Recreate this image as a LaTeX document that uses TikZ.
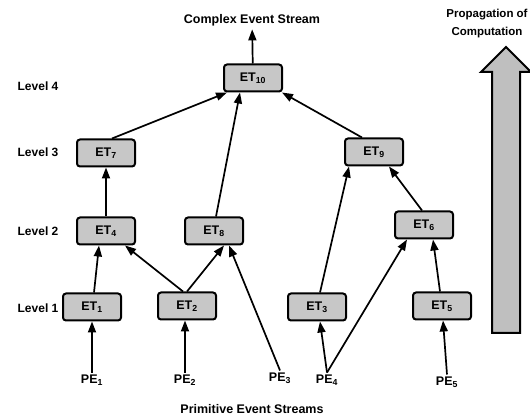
\documentclass[tikz,border=0pt]{standalone}
\usepackage{fontspec}
\setmainfont{Liberation Sans}
\usetikzlibrary{positioning,calc}
\usetikzlibrary{arrows.meta}
\tikzset{
  et/.style={rectangle, rounded corners=3pt, minimum width=58pt, minimum height=27pt, text centered, draw=black, line width=2pt, fill=black!22, font=\bfseries\fontsize{12.5}{14}\selectfont},
  lv/.style={font=\bfseries\fontsize{12.5}{18}\selectfont, text centered},
  pe/.style={font=\bfseries\fontsize{12.5}{14}\selectfont, inner sep=2pt},
  ar/.style={->, line width=1.7pt},
  node distance=7mm
}

\begin{document}
\begin{tikzpicture}[x=1pt, y=-1pt, >={Triangle[length=11pt,width=8pt]}]
	\useasboundingbox (0,0) rectangle (530,419);
	\node[lv] (ces) at (252,20) {Complex Event Stream};
	\node[lv] (pes) at (252,409) {Primitive Event Streams};
	\node[lv, align=center, font=\bfseries\fontsize{11.5}{18}\selectfont] (prop) at (487,24) {Propagation of\\Computation};
	%
	\node[lv, font=\bfseries\fontsize{12}{14}\selectfont] (lv4) at (38,86) {Level 4};
	\node[lv, font=\bfseries\fontsize{12}{14}\selectfont] (lv3) at (38,152) {Level 3};
	\node[lv, font=\bfseries\fontsize{12}{14}\selectfont] (lv2) at (38,231) {Level 2};
	\node[lv, font=\bfseries\fontsize{12}{14}\selectfont] (lv1) at (38,308) {Level 1};
	%
	\node[et] (et10) at (253,78) {ET\textsubscript{10}};
	\node[et] (et7) at (106,153) {ET\textsubscript{7}};
	\node[et] (et9) at (374,152) {ET\textsubscript{9}};
	\node[et] (et4) at (106,231) {ET\textsubscript{4}};
	\node[et] (et8) at (214,231) {ET\textsubscript{8}};
	\node[et] (et6) at (424,225) {ET\textsubscript{6}};
	\node[et] (et1) at (92,307) {ET\textsubscript{1}};
	\node[et] (et2) at (187,306) {ET\textsubscript{2}};
	\node[et] (et3) at (317,307) {ET\textsubscript{3}};
	\node[et] (et5) at (442,306) {ET\textsubscript{5}};
	%
	\node[pe] (pe1) at (92,380) {PE\textsubscript{1}};
	\node[pe] (pe2) at (185,380) {PE\textsubscript{2}};
	\node[pe] (pe3) at (280,378) {PE\textsubscript{3}};
	\node[pe] (pe4) at (327,380) {PE\textsubscript{4}};
	\node[pe] (pe5) at (447,382) {PE\textsubscript{5}};
	%
	\draw[ar] (et10) -- (ces);
	\draw[ar] ([xshift=6pt]et7.north) -- ([xshift=4pt]et10.south west);
	\draw[ar] ([xshift=2pt]et8.north) -- ([xshift=-13pt]et10.south);
	\draw[ar] ([xshift=-12pt]et9.north) -- ([xshift=-1pt]et10.south east);
	\draw[ar] (et4) -- (et7);
	\draw[ar] ([xshift=-2pt]et6.north) -- ([xshift=-15pt]et9.south east);
	\draw[ar] ([xshift=2pt]et1.north) -- ([xshift=-7pt]et4.south);
	\draw[ar] ([xshift=-4pt]et2.north) -- ([xshift=-11pt]et4.south east);
	\draw[ar] (et2.north) -- ([xshift=-20pt]et8.south east);
	\draw[ar] (pe3.north) -- ([xshift=-15pt]et8.south east);
	\draw[ar] ([xshift=3pt]et3.north) -- ([xshift=5pt]et9.south west);
	\draw[ar] (pe4.north) -- ([xshift=3pt]et3.south);
	\draw[ar] (pe4.north) -- ([xshift=13pt]et6.south west);
	\draw[ar] ([xshift=-2pt]et5.north) -- ([xshift=9pt]et6.south);
	\draw[ar] (pe1) -- (et1);
	\draw[ar] (pe2) -- ([xshift=-2pt]et2.south);
	\draw[ar] (pe5.north) -- ([xshift=1pt]et5.south);
	% propagation arrow
	\draw[line width=2pt, fill=black!25] (492,333) -- (492,72) -- (481,72) -- (506,47) -- (531,72) -- (520,72) -- (520,333) -- cycle;
\end{tikzpicture}
\end{document}
